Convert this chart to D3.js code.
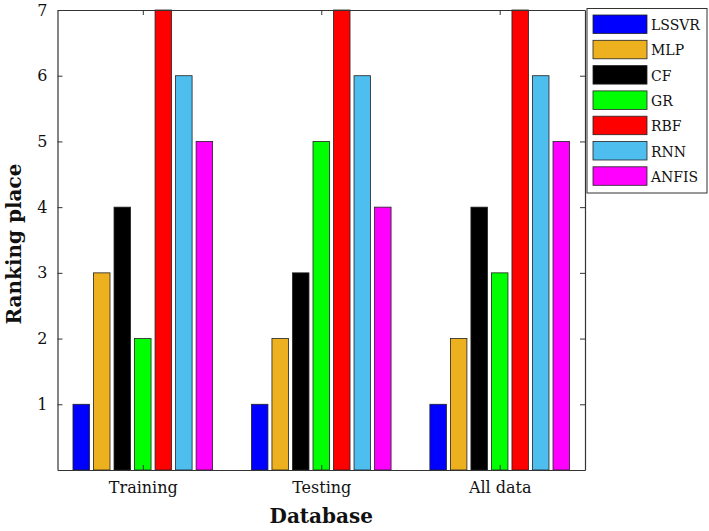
<!DOCTYPE html>
<html><head><meta charset="utf-8">
<script src="https://cdn.jsdelivr.net/npm/d3@7"></script>
<style>body{margin:0;background:#fff}svg{display:block}text{font-family:"DejaVu Serif",serif;fill:#111}</style>
</head><body><svg id="c" width="709" height="531"></svg>
<script>
const categories = ["Training", "Testing", "All data"];
const models = ["LSSVR", "MLP", "CF", "GR", "RBF", "RNN", "ANFIS"];
const colors = ["#0000FF", "#EDB120", "#000000", "#00FF00", "#FF0000", "#4DBEEE", "#FF00FF"];
const LSSVR = [1, 1, 1];
const MLP = [3, 2, 2];
const CF = [4, 3, 4];
const GR = [2, 5, 3];
const RBF = [7, 7, 7];
const RNN = [6, 6, 6];
const ANFIS = [5, 4, 5];
const series = [LSSVR, MLP, CF, GR, RBF, RNN, ANFIS];
const yTicks = [1, 2, 3, 4, 5, 6, 7];

const svg = d3.select("#c");
const L = 57.5, R = 585, T = 10, B = 470;
const x = d3.scaleLinear().domain([0.522, 3.478]).range([L, R]);
const y = d3.scaleLinear().domain([0, 7]).range([B, T]);
const pitch = 0.115, bw = 0.0925;
const axisColor = "#333";

const g = svg.append("g");
series.forEach((vals, si) => {
  g.selectAll(null).data(vals).enter().append("rect")
    .attr("x", (d, i) => x(i + 1 + (si - 3) * pitch - bw / 2))
    .attr("width", (d, i) => x(i + 1 + bw / 2) - x(i + 1 - bw / 2))
    .attr("y", d => y(d))
    .attr("height", d => y(0) - y(d))
    .attr("fill", colors[si])
    .attr("stroke", "#222").attr("stroke-width", 0.8);
});

// axes
const xb = d3.axisBottom(x).tickValues([1, 2, 3]).tickFormat((d) => categories[d - 1]).tickSizeInner(-5).tickSizeOuter(0).tickPadding(12);
const xt = d3.axisTop(x).tickValues([1, 2, 3]).tickFormat("").tickSizeInner(-5).tickSizeOuter(0);
const yl = d3.axisLeft(y).tickValues(yTicks).tickFormat(d3.format("d")).tickSizeInner(-5).tickSizeOuter(0).tickPadding(10);
const yr = d3.axisRight(y).tickValues(yTicks).tickFormat("").tickSizeInner(-5).tickSizeOuter(0);

function style(sel) {
  sel.select(".domain").attr("stroke", axisColor).attr("stroke-width", 1.2);
  sel.selectAll(".tick line").attr("stroke", axisColor).attr("stroke-width", 1);
  sel.selectAll("text").attr("font-size", 16).attr("fill", "#111");
}
svg.append("g").attr("transform", `translate(0,${B})`).call(xb).call(style);
svg.append("g").attr("transform", `translate(0,${T})`).call(xt).call(style);
svg.append("g").attr("transform", `translate(${L},0)`).call(yl).call(style);
svg.append("g").attr("transform", `translate(${R},0)`).call(yr).call(style);

svg.append("text").attr("x", (L + R) / 2).attr("y", 523).attr("text-anchor", "middle")
  .attr("font-size", 20).attr("font-weight", "bold").text("Database");
svg.append("text").attr("transform", `translate(21,${(T + B) / 2 + 4}) rotate(-90)`).attr("text-anchor", "middle")
  .attr("font-size", 20).attr("font-weight", "bold").text("Ranking place");

// legend
const lg = svg.append("g");
lg.append("rect").attr("x", 587).attr("y", 8.5).attr("width", 120).attr("height", 184.5)
  .attr("fill", "#fff").attr("stroke", axisColor).attr("stroke-width", 1);
models.forEach((m, i) => {
  const yy = 15 + i * 25.3;
  lg.append("rect").attr("x", 593).attr("y", yy).attr("width", 54).attr("height", 18.5)
    .attr("fill", colors[i]).attr("stroke", "#222").attr("stroke-width", 0.8);
  lg.append("text").attr("x", 651).attr("y", yy + 15).attr("font-size", 14).text(m);
});
</script></body></html>
